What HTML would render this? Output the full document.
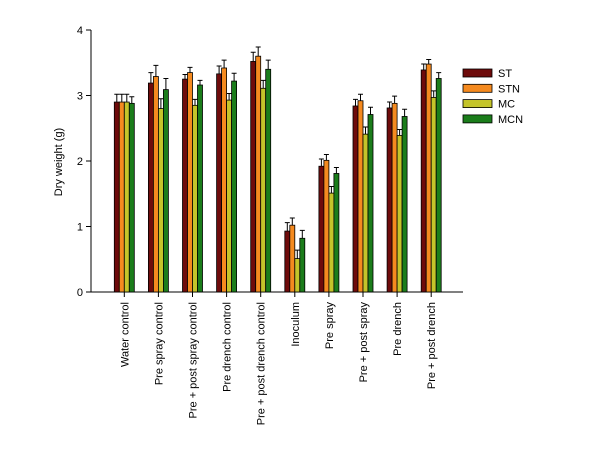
<!DOCTYPE html>
<html><head><meta charset="utf-8"><style>
body{margin:0;background:#fff;}
text{font-family:"Liberation Sans",Arial,sans-serif;font-size:11px;fill:#000;}
</style></head><body>
<svg id="chart" width="608" height="456" xmlns="http://www.w3.org/2000/svg">
<g id="plot"></g>
</svg>
<script>
const categories=["Water control","Pre spray control","Pre + post spray control","Pre drench control","Pre + post drench control","Inoculum","Pre spray","Pre + post spray","Pre drench","Pre + post drench"];
const seriesNames=["ST","STN","MC","MCN"];
const seriesColors=["#6e0b0b","#f58a1f","#c4c42a","#1b7d1b"];
const stValues=[2.90,3.19,3.25,3.33,3.52,0.93,1.92,2.84,2.81,3.39];
const stnValues=[2.90,3.29,3.35,3.42,3.60,1.02,2.01,2.92,2.88,3.48];
const mcValues=[2.90,2.80,2.85,2.93,3.11,0.51,1.51,2.41,2.39,2.97];
const mcnValues=[2.88,3.09,3.16,3.22,3.40,0.82,1.81,2.71,2.68,3.26];
const stErr=[0.12,0.16,0.07,0.12,0.14,0.13,0.11,0.10,0.09,0.09];
const stnErr=[0.12,0.17,0.08,0.12,0.14,0.11,0.09,0.10,0.11,0.07];
const mcErr=[0.12,0.15,0.09,0.10,0.12,0.13,0.10,0.11,0.09,0.10];
const mcnErr=[0.10,0.17,0.07,0.12,0.14,0.12,0.09,0.11,0.11,0.09];
const yTicks=[0,1,2,3,4];
const values=[stValues,stnValues,mcValues,mcnValues];
const errs=[stErr,stnErr,mcErr,mcnErr];
const NS="http://www.w3.org/2000/svg";
const g=document.getElementById('plot');
const X0=91,X1=463,Y0=292,Y4=30;
const y=v=>Y0-(v/4)*(Y0-Y4);
const groupW=34.1, firstC=124.3, barW=5;
const xc=i=>firstC+groupW*i;
function mk(t,a){const e=document.createElementNS(NS,t);for(const k in a)e.setAttribute(k,a[k]);g.appendChild(e);return e;}
let ax=mk('line',{x1:X0,y1:Y4,x2:X0,y2:Y0,stroke:'#000','stroke-width':1});


let bx=mk('line',{x1:X0,y1:Y0,x2:X1,y2:Y0,stroke:'#000','stroke-width':1});


yTicks.forEach(t=>{
  const tk=mk('line',{x1:X0-5,y1:y(t),x2:X0,y2:y(t),stroke:'#000'});
  
  
  const tl=mk('text',{x:X0-8,y:y(t)+4,'text-anchor':'end'});tl.textContent=t;
  
  
});
const yt=mk('text',{x:0,y:0,'text-anchor':'middle',transform:'translate(62,162) rotate(-90)'});yt.textContent='Dry weight (g)';


categories.forEach((c,i)=>{
  const cx=xc(i);
  const tk=mk('line',{x1:cx,y1:Y0,x2:cx,y2:Y0+5,stroke:'#000'});
  
  
  const tl=mk('text',{x:0,y:0,'text-anchor':'end',transform:`translate(${cx+4},${Y0+10}) rotate(-90)`});tl.textContent=c;
  
  
  values.forEach((s,j)=>{
    const bxl=cx-10+j*barW;
    const top=y(s[i]);
    const r=mk('rect',{x:bxl,y:top,width:barW,height:Y0-top,fill:seriesColors[j],stroke:'#000','stroke-width':0.8});
    
    
    const et=y(s[i]+errs[j][i]);const mx=bxl+barW/2;
    const e=mk('path',{d:`M${mx},${top}V${et}M${mx-2.5},${et}H${mx+2.5}`,stroke:'#000','stroke-width':1,fill:'none'});
    
    
  });
});
seriesNames.forEach((n,j)=>{
  const yy=69+j*15.3;
  const r=mk('rect',{x:463,y:yy,width:29,height:8,fill:seriesColors[j],stroke:'#000','stroke-width':0.8});
  
  
  const t=mk('text',{x:498,y:yy+8});t.textContent=n;
  
  
});
</script>
</body></html>
